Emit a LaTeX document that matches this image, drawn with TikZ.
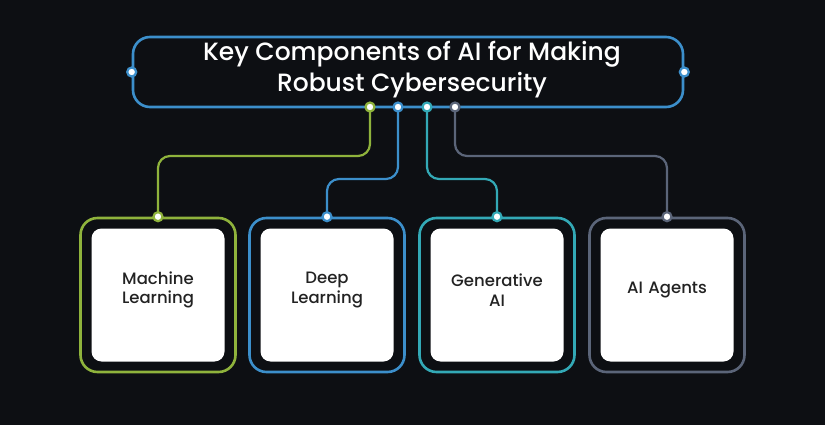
\documentclass[tikz,border=0pt]{standalone}
\usepackage{fontspec}
\setmainfont{Poppins}
\newfontfamily\medfont{Poppins Medium}
\definecolor{bgdark}{HTML}{0D0F13}
\definecolor{mlgreen}{HTML}{8FB33C}
\definecolor{dlblue}{HTML}{3C8FCB}
\definecolor{genteal}{HTML}{33A9B6}
\definecolor{agray}{HTML}{5B6579}
\definecolor{textdark}{HTML}{222222}
\begin{document}
\begin{tikzpicture}[x=1pt, y=-1pt]
        % Common Styles
        \tikzset{frame/.style={draw=#1, line width=2.6pt, rounded corners=17pt, minimum width=155pt, minimum height=154pt, inner sep=0pt}}
        \tikzset{card/.style={fill=white, rounded corners=10pt, minimum width=133pt, minimum height=133pt, inner sep=0pt}}
        \tikzset{cardtext/.style={text width=125pt, align=center, text=textdark, font=\medfont\fontsize{16.5}{19.5}\selectfont, inner sep=0pt}}
        \tikzset{link/.style={draw=#1, line width=2.2pt, rounded corners=12pt}}
        \tikzset{dot/.style={circle, fill=white, draw=#1, line width=2.2pt, minimum size=9pt, inner sep=0pt}}

        % Background
        \fill[bgdark] (0,0) rectangle (825,425);
        \useasboundingbox (0,0) rectangle (825,425);

        % 1. Title
        \node[draw=dlblue, line width=2.6pt, rounded corners=17pt, minimum width=550pt, minimum height=70pt, inner sep=0pt] (title) at (408,72) {};
        \node[text=white, align=center, font=\medfont\fontsize{25}{31}\selectfont] (titletext) at (412,70) {Key Components of AI for Making\\Robust Cybersecurity};

        % 2. Cards
        \node[frame=mlgreen] (F1) at (158,295) {};
        \node[card] (C1) at (158,295) {};
        \node[frame=dlblue] (F2) at (327,295) {};
        \node[card] (C2) at (327,295) {};
        \node[frame=genteal] (F3) at (497,295) {};
        \node[card] (C3) at (497,295) {};
        \node[frame=agray] (F4) at (667,295) {};
        \node[card] (C4) at (667,295) {};
        \node[cardtext] (L1) at (158,290) {Machine\\Learning};
        \node[cardtext] (L2) at (327,290) {Deep\\Learning};
        \node[cardtext] (L3) at (497,290) {Generative\\AI};
        \node[cardtext] (L4) at (667,290) {AI Agents};

        % 3. Connectors
        \coordinate (T1) at (370,107);
        \coordinate (T2) at (398,107);
        \coordinate (T3) at (427,107);
        \coordinate (T4) at (455,107);
        \draw[link=mlgreen] (T1) -- (370,156) -| (F1.north);
        \draw[link=dlblue] (T2) -- (398,179) -| (F2.north);
        \draw[link=genteal] (T3) -- (427,179) -| (F3.north);
        \draw[link=agray] (T4) -- (455,156) -| (F4.north);

        % 4. Dots
        \node[dot=dlblue] (DL) at (title.west) {};
        \node[dot=dlblue] (DR) at (title.east) {};
        \node[dot=mlgreen] (D1) at (T1) {};
        \node[dot=dlblue] (D2) at (T2) {};
        \node[dot=genteal] (D3) at (T3) {};
        \node[dot=agray] (D4) at (T4) {};
        \node[dot=mlgreen] (B1) at (F1.north) {};
        \node[dot=dlblue] (B2) at (F2.north) {};
        \node[dot=genteal] (B3) at (F3.north) {};
        \node[dot=agray] (B4) at (F4.north) {};
    \end{tikzpicture}
\end{document}
